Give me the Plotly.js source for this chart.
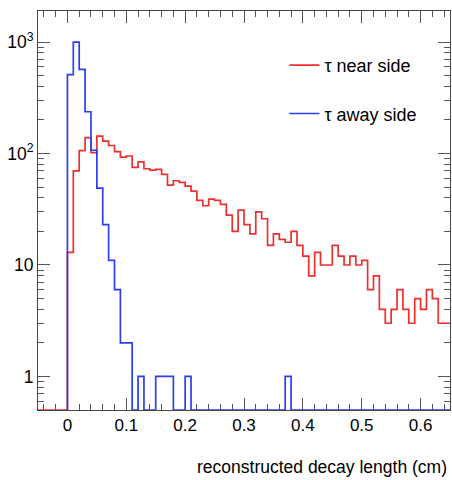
<!DOCTYPE html>
<html>
<head>
<meta charset="utf-8">
<script src="https://cdn.plot.ly/plotly-3.0.1.min.js"></script>
<style>
  html, body { margin: 0; padding: 0; background: #ffffff; }
  #chart { width: 452px; height: 480px; }
</style>
</head>
<body>
<div id="chart"></div>
<script>
// ---- data (bin width 0.01 cm) ----
const binWidth = 0.01;

// tau near side: bins starting at -0.05 cm
const nearStart = -0.05;
const nearCounts = [
  0, 0, 0, 0, 0,
  13, 70, 106, 139, 102, 143, 129, 118, 104, 93,
  95, 75, 84, 73, 71, 72, 65, 52, 57, 55,
  51, 46, 38, 34, 39, 38, 35, 28, 20, 31,
  23, 19, 30, 26, 15, 19, 17, 16, 20, 15,
  12, 8, 13, 10, 10, 15, 12, 10, 12, 10,
  11, 6, 8, 4, 3, 4, 6, 4, 3, 5,
  4, 6, 5, 3, 3
];

// tau away side: bins starting at 0 cm
const awayStart = 0.0;
const awayCounts = [
  510, 1000, 570, 237, 107, 49, 23, 11, 6, 2,
  2, 0, 1, 0, 0, 1, 1, 1, 0, 0,
  1, 0, 0, 0, 0, 0, 0, 0, 0, 0,
  0, 0, 0, 0, 0, 0, 0, 1, 0, 0,
  0, 0, 0, 0, 0, 0, 0, 0, 0, 0,
  0, 0, 0, 0, 0, 0, 0, 0, 0, 0,
  0, 0, 0, 0, 0
];

const seriesNames = ["\u03c4 near side", "\u03c4 away side"];
const seriesColors = ["#ee2f2f", "#2b3ff2"];

const xTickVals = [0, 0.1, 0.2, 0.3, 0.4, 0.5, 0.6];
const xTickText = ["0", "0.1", "0.2", "0.3", "0.4", "0.5", "0.6"];
const yTickVals = [1, 10, 100, 1000];
const yTickText = ["1", "10", "10<sup>2</sup>", "10<sup>3</sup>"];
const xTitle = "reconstructed decay length (cm)";

const xRange = [-0.05, 0.65];
const yMin = 0.5, yMax = 1900;

// ---- build step (histogram outline) traces ----
function stepTrace(start, counts, name, color) {
  const x = [start], y = [yMin];
  counts.forEach((c, i) => {
    x.push(start + i * binWidth);
    y.push(c > 0 ? c : yMin);
  });
  x.push(start + counts.length * binWidth);
  y.push(y[y.length - 1]);
  return {
    type: "scatter", mode: "lines", x: x, y: y, name: name,
    line: { shape: "hv", color: color, width: 1.7 },
    legendgroup: name, hoverinfo: "skip"
  };
}

const traces = [
  stepTrace(nearStart, nearCounts, seriesNames[0], seriesColors[0]),
  stepTrace(awayStart, awayCounts, seriesNames[1], seriesColors[1])
];

// minor ticks for log axis
const yMinor = [];
[0.1, 1, 10, 100, 1000].forEach(d => {
  for (let k = 2; k <= 9; k++) {
    const v = d * k;
    if (v >= yMin && v <= yMax) yMinor.push(v);
  }
});

const FONT = "Liberation Sans, Arial, Helvetica, sans-serif";

const layout = {
  width: 452, height: 480,
  margin: { l: 38, r: 2, t: 11, b: 70 },
  paper_bgcolor: "#ffffff", plot_bgcolor: "#ffffff",
  font: { family: FONT, size: 17, color: "#000000" },
  showlegend: true,
  legend: {
    x: 0.598, y: 0.91, xanchor: "left", yanchor: "top",
    bgcolor: "rgba(0,0,0,0)", borderwidth: 0,
    font: { family: FONT, size: 18, color: "#000000" },
    traceorder: "grouped", tracegroupgap: 22
  },
  xaxis: {
    range: xRange, showgrid: false, zeroline: false,
    showline: true, linecolor: "#444444", linewidth: 1, mirror: "ticks",
    ticks: "inside", ticklen: 12, tickcolor: "#555555", tickwidth: 1,
    tickmode: "array", tickvals: xTickVals, ticktext: xTickText,
    tickfont: { family: FONT, size: 17, color: "#000000" },
    minor: { ticks: "inside", ticklen: 6, tickcolor: "#555555", tickwidth: 1, dtick: 0.02, tick0: 0, showgrid: false },
    layer: "below traces", fixedrange: true
  },
  yaxis: {
    type: "log", range: [Math.log10(yMin), Math.log10(yMax)],
    showgrid: false, zeroline: false,
    showline: true, linecolor: "#444444", linewidth: 1, mirror: "ticks",
    ticks: "inside", ticklen: 12, tickcolor: "#555555", tickwidth: 1,
    tickmode: "array", tickvals: yTickVals, ticktext: yTickText,
    tickfont: { family: FONT, size: 17.5, color: "#000000" },
    minor: { ticks: "inside", ticklen: 6, tickcolor: "#555555", tickwidth: 1, tickmode: "array", tickvals: yMinor, showgrid: false },
    layer: "below traces", fixedrange: true
  },
  annotations: [{
    text: xTitle, xref: "paper", yref: "paper",
    x: 1, y: 0, xanchor: "right", yanchor: "middle", yshift: -57, xshift: -1,
    showarrow: false, font: { family: FONT, size: 17.5, color: "#000000" }
  }]
};

Plotly.newPlot("chart", traces, layout, { staticPlot: true, displayModeBar: false });
</script>
</body>
</html>
